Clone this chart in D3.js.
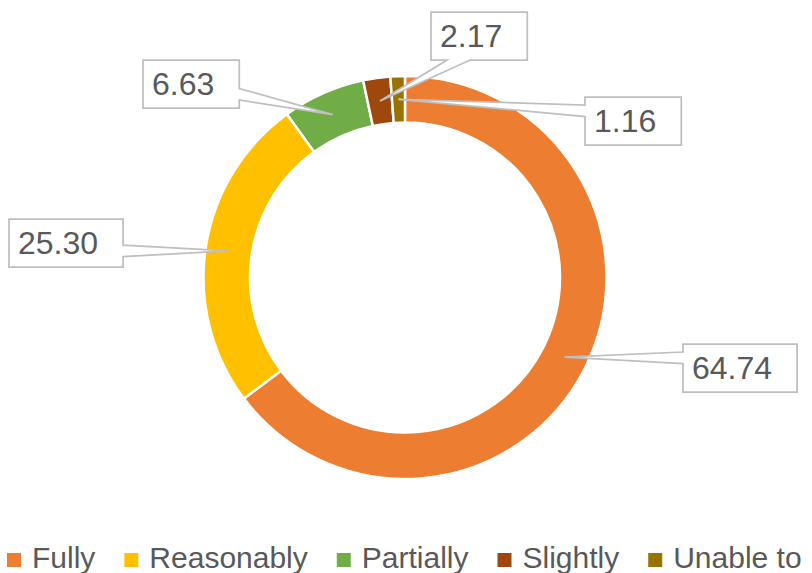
<!DOCTYPE html>
<html>
<head>
<meta charset="utf-8">
<script src="https://cdn.jsdelivr.net/npm/d3@7"></script>
<style>
  body { margin: 0; background: #fff; }
  svg { display: block; font-family: "Liberation Sans", Arial, sans-serif; }
</style>
</head>
<body>
<div id="chart"></div>
<script>
const categories = ['Fully', 'Reasonably', 'Partially', 'Slightly', 'Unable to'];
const values = [64.74, 25.30, 6.63, 2.17, 1.16];
const colors = ['#ED7D31', '#FFC000', '#70AD47', '#9E480E', '#997300'];
// top-left corners of the data label boxes, as they were placed by hand in the original
const labelBoxes = [[683, 344], [9, 219], [143, 60], [431, 12], [585, 97]];

const width = 812, height = 573;
const ring = { cx: 405, cy: 277.5, outer: 201.5, inner: 155 };
const textColor = '#595959';
const lineColor = '#BFBFBF';

const svg = d3.select('#chart')
    .append('svg')
    .attr('width', width)
    .attr('height', height);

const pie = d3.pie().sort(null).value(d => d.value);
const arc = d3.arc().innerRadius(ring.inner).outerRadius(ring.outer);
const data = pie(categories.map((c, i) => ({ name: c, value: values[i], color: colors[i] })));

const ringG = svg.append('g')
    .attr('transform', `translate(${ring.cx},${ring.cy})`);

ringG.selectAll('path')
    .data(data)
    .enter()
    .append('path')
    .attr('d', arc)
    .attr('fill', d => d.data.color)
    .attr('stroke', '#fff')
    .attr('stroke-width', 2.5);

// callout box with a wedge pointing at the slice
function calloutPath(bx, by, bw, bh, px, py) {
    let cx = bx + bw / 2, cy = by + bh / 2,
        nx = (px - cx) / (bw / 2),
        ny = (py - cy) / (bh / 2),
        pts = [],
        clamp = (v, a, b) => Math.max(a, Math.min(b, v));

    let side;
    if (Math.abs(nx) > Math.abs(ny)) side = nx < 0 ? 'left' : 'right';
    else side = ny < 0 ? 'top' : 'bottom';

    let L = (side === 'left' || side === 'right') ? bh : bw,
        w = 0.24 * L,
        start = (side === 'left' || side === 'right') ? by : bx,
        c = clamp((side === 'left' || side === 'right') ? py : px, start + L / 6 + w / 2, start + L - L / 6 - w / 2);

    pts.push([bx, by]);
    if (side === 'top') pts.push([c - w / 2, by], [px, py], [c + w / 2, by]);
    pts.push([bx + bw, by]);
    if (side === 'right') pts.push([bx + bw, c - w / 2], [px, py], [bx + bw, c + w / 2]);
    pts.push([bx + bw, by + bh]);
    if (side === 'bottom') pts.push([c + w / 2, by + bh], [px, py], [c - w / 2, by + bh]);
    pts.push([bx, by + bh]);
    if (side === 'left') pts.push([bx, c + w / 2], [px, py], [bx, c - w / 2]);

    return 'M' + pts.map(p => p.join(',')).join('L') + 'Z';
}

const fmt = d3.format('.2f');
const labelG = svg.append('g');

data.forEach((d, i) => {
    let [bx, by] = labelBoxes[i],
        centroid = arc.centroid(d),
        px = ring.cx + centroid[0],
        py = ring.cy + centroid[1];

    let g = labelG.append('g');
    let path = g.append('path')
        .attr('fill', '#fff')
        .attr('stroke', lineColor)
        .attr('stroke-width', 1.75);
    let text = g.append('text')
        .text(fmt(d.data.value))
        .attr('x', bx + 9)
        .attr('y', by + 35)
        .attr('font-size', 32)
        .attr('fill', textColor);

    let tw = text.node().getComputedTextLength(),
        bw = tw + 34,
        bh = 48;
    path.attr('d', calloutPath(bx, by, bw, bh, px, py));
});

// legend along the bottom
const legendG = svg.append('g').attr('transform', 'translate(7,553)');
let lx = 0;
categories.forEach((c, i) => {
    let item = legendG.append('g').attr('transform', `translate(${lx},0)`);
    item.append('rect')
        .attr('width', 14)
        .attr('height', 14)
        .attr('fill', colors[i]);
    let t = item.append('text')
        .text(c)
        .attr('x', 25)
        .attr('y', 15)
        .attr('font-size', 30)
        .attr('fill', textColor);
    lx += 25 + t.node().getComputedTextLength() + 29;
});
</script>
</body>
</html>
